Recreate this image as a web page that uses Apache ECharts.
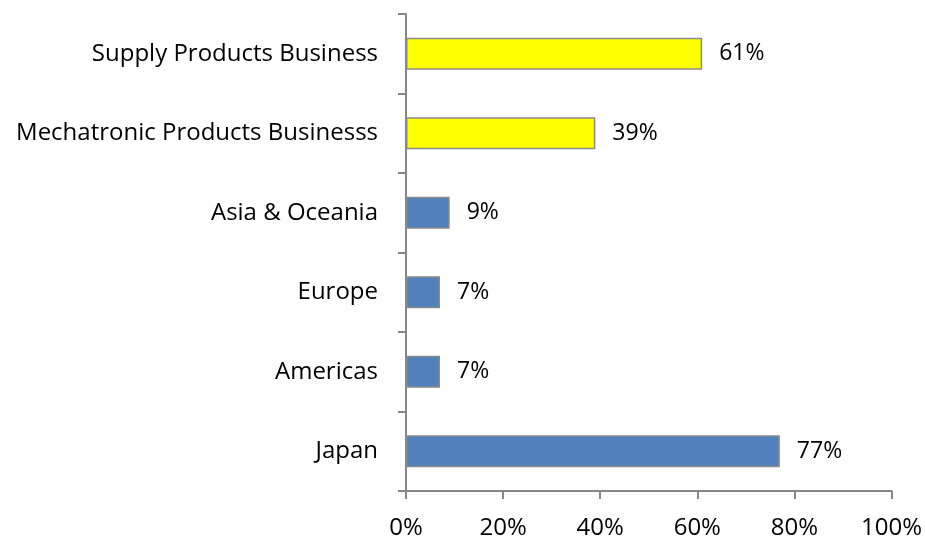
<!DOCTYPE html>
<html>
<head>
<meta charset="utf-8">
<script src="https://cdn.jsdelivr.net/npm/echarts@6/dist/echarts.min.js"></script>
<style>
  html, body { margin: 0; padding: 0; background: #fff; }
  #chart { width: 925px; height: 540px; }
</style>
</head>
<body>
<div id="chart"></div>
<script>
// Sales composition by region and by business segment (percent)
const categories = ['Japan', 'Americas', 'Europe', 'Asia & Oceania', 'Mechatronic Products Businesss', 'Supply Products Business'];
const shares = [77, 7, 7, 9, 39, 61];
const barColors = ['#4F81BD', '#4F81BD', '#4F81BD', '#4F81BD', '#FFFF00', '#FFFF00'];
const xTicks = [0, 20, 40, 60, 80, 100];

const FONT = 'Open Sans';
const axisGrey = '#878787';

const chart = echarts.init(document.getElementById('chart'), null, { renderer: 'canvas' });

chart.setOption({
  animation: false,
  backgroundColor: '#ffffff',
  grid: { left: 406, right: 32, top: 14, bottom: 49, containLabel: false },
  xAxis: {
    type: 'value',
    min: xTicks[0],
    max: xTicks[xTicks.length - 1],
    interval: xTicks[1] - xTicks[0],
    axisLine: { show: true, lineStyle: { color: axisGrey, width: 2 } },
    axisTick: { show: true, length: 8, lineStyle: { color: axisGrey, width: 2 } },
    splitLine: { show: false },
    axisLabel: {
      color: '#000', fontFamily: FONT, fontSize: 24, margin: 25,
      formatter: v => v + '%'
    }
  },
  yAxis: {
    type: 'category',
    data: categories,
    axisLine: { show: true, lineStyle: { color: axisGrey, width: 2 } },
    axisTick: { show: true, length: 8, lineStyle: { color: axisGrey, width: 2 } },
    axisLabel: { color: '#000', fontFamily: FONT, fontSize: 24, margin: 28 }
  },
  series: [{
    type: 'bar',
    barWidth: 32,
    data: shares.map((v, i) => ({
      value: v,
      itemStyle: { color: barColors[i], borderColor: '#8a8a8a', borderWidth: 1.5 }
    })),
    label: {
      show: true,
      position: 'right',
      distance: 17,
      color: '#000',
      fontFamily: FONT,
      fontSize: 23,
      formatter: p => p.value + '%'
    }
  }]
});
</script>
</body>
</html>
